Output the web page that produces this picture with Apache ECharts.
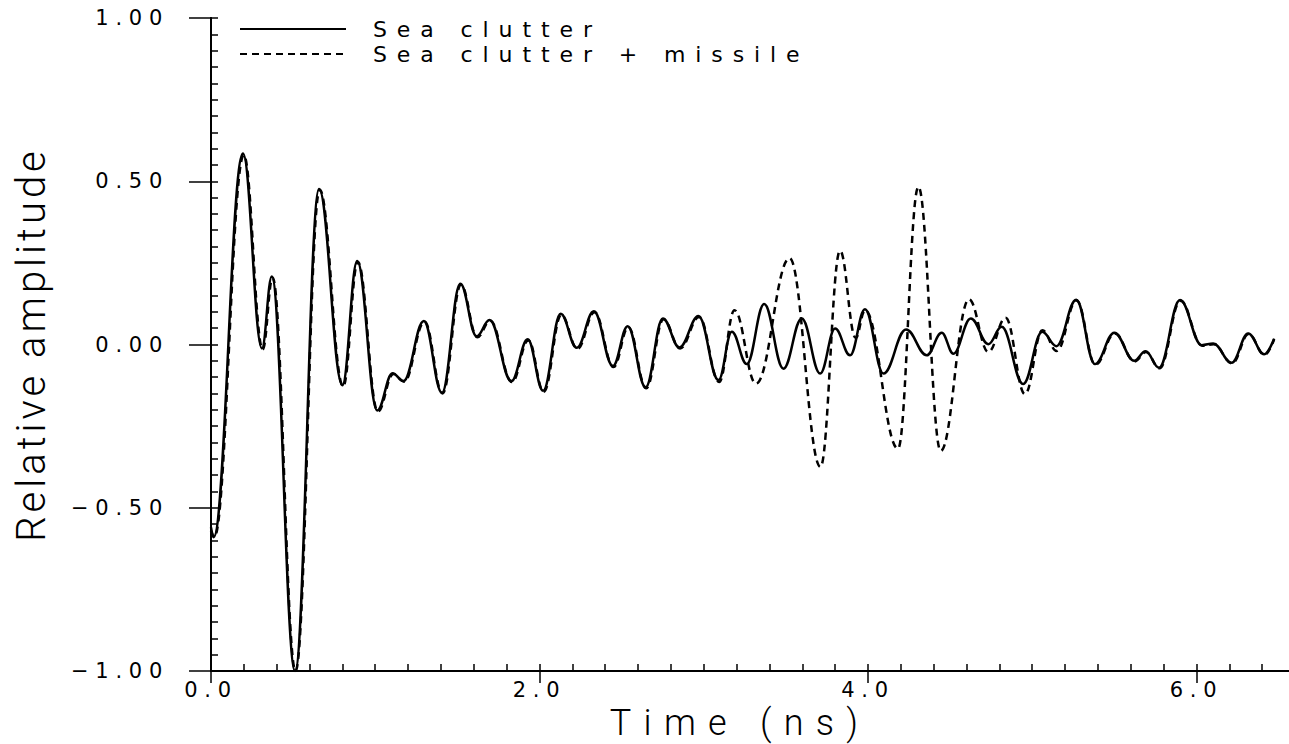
<!DOCTYPE html>
<html>
<head>
<meta charset="utf-8">
<title>Sea clutter</title>
<script src="https://cdn.jsdelivr.net/npm/echarts@6.0.0/dist/echarts.min.js"></script>
<style>
  html, body { margin: 0; padding: 0; background: #fff; }
  #chart { width: 1289px; height: 744px; }
  /* wide plotter lettering, picked out by font size */
  #chart text[style*="21px"] { letter-spacing: 0.32em; }
  #chart text[style*="22px"] { letter-spacing: 0.45em; }
  #chart text[style*="36px"] { letter-spacing: 0.34em; }
  #chart text[style*="40px"] { letter-spacing: 0.1em; }
</style>
</head>
<body>
<div id="chart"></div>
<script>
// time axis in ns, amplitude relative
var clutterTime = [0.000, 0.016, 0.195, 0.310, 0.370, 0.512, 0.658, 0.800, 0.890, 1.012,
  1.105, 1.172, 1.296, 1.406, 1.518, 1.617, 1.696, 1.829, 1.928, 2.022,
  2.129, 2.227, 2.331, 2.447, 2.537, 2.646, 2.751, 2.852, 2.968, 3.090,
  3.171, 3.262, 3.368, 3.485, 3.597, 3.709, 3.800, 3.891, 3.982, 4.094,
  4.232, 4.358, 4.449, 4.520, 4.626, 4.733, 4.814, 4.945, 5.061, 5.147,
  5.268, 5.382, 5.500, 5.621, 5.690, 5.772, 5.900, 6.032, 6.102, 6.214,
  6.315, 6.412, 6.473];
var clutterAmp = [-0.56, -0.59, 0.585, -0.012, 0.208, -1.00, 0.476, -0.125, 0.256, -0.202,
  -0.088, -0.112, 0.072, -0.148, 0.186, 0.025, 0.075, -0.112, 0.016, -0.142,
  0.094, -0.010, 0.102, -0.066, 0.056, -0.131, 0.080, -0.009, 0.087, -0.109,
  0.039, -0.060, 0.124, -0.074, 0.080, -0.089, 0.049, -0.033, 0.108, -0.089,
  0.046, -0.033, 0.036, -0.028, 0.080, 0.001, 0.054, -0.121, 0.039, -0.005,
  0.137, -0.060, 0.036, -0.050, -0.021, -0.071, 0.136, -0.002, 0.003, -0.056,
  0.034, -0.030, 0.018];

var missileTime = [0.000, 0.020, 0.200, 0.315, 0.375, 0.515, 0.662, 0.805, 0.894, 1.016,
  1.110, 1.176, 1.300, 1.410, 1.522, 1.621, 1.700, 1.833, 1.932, 2.026,
  2.133, 2.231, 2.335, 2.451, 2.541, 2.650, 2.755, 2.856, 2.972, 3.094,
  3.187, 3.318, 3.523, 3.711, 3.830, 3.925, 3.982, 4.183, 4.307, 4.443,
  4.615, 4.733, 4.838, 4.956, 5.062, 5.149, 5.270, 5.385, 5.503, 5.624,
  5.693, 5.775, 5.903, 6.035, 6.105, 6.217, 6.318, 6.415, 6.473];
var missileAmp = [-0.57, -0.59, 0.58, -0.015, 0.205, -1.00, 0.474, -0.128, 0.253, -0.205,
  -0.090, -0.114, 0.070, -0.150, 0.183, 0.022, 0.073, -0.115, 0.013, -0.145,
  0.091, -0.013, 0.099, -0.069, 0.053, -0.134, 0.077, -0.012, 0.084, -0.115,
  0.105, -0.120, 0.264, -0.375, 0.287, 0.020, 0.105, -0.319, 0.483, -0.326,
  0.138, -0.023, 0.082, -0.152, 0.044, -0.020, 0.135, -0.062, 0.034, -0.052,
  -0.023, -0.073, 0.134, -0.004, 0.001, -0.058, 0.032, -0.032, 0.016];

var xLabelStep = 2;
var yLabelStep = 0.5;

var chart = echarts.init(document.getElementById('chart'), null, { renderer: 'svg' });

var axisLineStyle = { show: true, onZero: false, lineStyle: { color: '#000', width: 2 } };
var tickStyle = { color: '#000', width: 1.5 };
var nameFont = "Roboto, 'Liberation Sans', sans-serif";

chart.setOption({
  animation: false,
  backgroundColor: '#fff',
  grid: { left: 211, right: -6, top: 18, bottom: 73, outerBoundsMode: 'none', containLabel: false },
  legend: {
    orient: 'vertical',
    left: 234,
    top: 13,
    itemWidth: 106,
    itemHeight: 14,
    itemGap: 3,
    selectedMode: false,
    itemStyle: { opacity: 0 },
    data: ['Sea clutter', 'Sea clutter + missile'],
    textStyle: { fontSize: 22, lineHeight: 20, fontFamily: 'DejaVu Sans', color: '#000', padding: [0, 0, 0, 22] }
  },
  xAxis: [
    { // fine ticks every 0.2 ns, pointing up
      type: 'value', min: 0, max: 6.6, interval: 0.2, position: 'bottom',
      axisLine: axisLineStyle,
      axisTick: { show: true, inside: true, length: 7, lineStyle: tickStyle },
      axisLabel: { show: false },
      splitLine: { show: false }
    },
    { // labelled ticks, pointing down
      type: 'value', min: 0, max: 6.6, interval: xLabelStep, position: 'bottom', offset: 0,
      axisLine: axisLineStyle,
      axisTick: { show: true, inside: false, length: 12, lineStyle: tickStyle },
      axisLabel: {
        margin: 8, fontSize: 21, fontFamily: 'DejaVu Sans', color: '#000',
        formatter: function (v) { return v % xLabelStep === 0 ? v.toFixed(1) : ''; }
      },
      splitLine: { show: false },
      name: 'Time (ns)',
      nameLocation: 'middle',
      nameGap: 28,
      nameTextStyle: { fontSize: 36, fontFamily: nameFont, fontWeight: 300, color: '#000', padding: [0, 26, 0, 0] }
    }
  ],
  yAxis: [
    { // fine ticks every 0.05, pointing right
      type: 'value', min: -1, max: 1, interval: 0.05, position: 'left',
      axisLine: axisLineStyle,
      axisTick: { show: true, inside: true, length: 7, lineStyle: tickStyle },
      axisLabel: { show: false },
      splitLine: { show: false }
    },
    { // labelled ticks, pointing left
      type: 'value', min: -1, max: 1, interval: yLabelStep, position: 'left', offset: 0,
      axisLine: axisLineStyle,
      axisTick: { show: true, inside: false, length: 22, lineStyle: tickStyle },
      axisLabel: {
        margin: 42, fontSize: 21, fontFamily: 'DejaVu Sans', color: '#000',
        formatter: function (v) { return v.toFixed(2).replace('-', '\u2212'); }
      },
      splitLine: { show: false },
      name: 'Relative amplitude',
      nameLocation: 'middle',
      nameGap: 160,
      nameTextStyle: { fontSize: 40, fontFamily: nameFont, fontWeight: 300, color: '#000' }
    }
  ],
  series: [
    {
      name: 'Sea clutter',
      type: 'line',
      symbol: 'none',
      smooth: 0.4,
      smoothMonotone: 'x',
      lineStyle: { color: '#000', width: 2.5 },
      itemStyle: { color: '#000' },
      data: clutterTime.map(function (t, i) { return [t, clutterAmp[i]]; })
    },
    {
      name: 'Sea clutter + missile',
      type: 'line',
      symbol: 'none',
      smooth: 0.4,
      smoothMonotone: 'x',
      lineStyle: { color: '#000', width: 2.5, type: [7, 5] },
      itemStyle: { color: '#000' },
      data: missileTime.map(function (t, i) { return [t, missileAmp[i]]; })
    }
  ]
});
</script>
</body>
</html>
